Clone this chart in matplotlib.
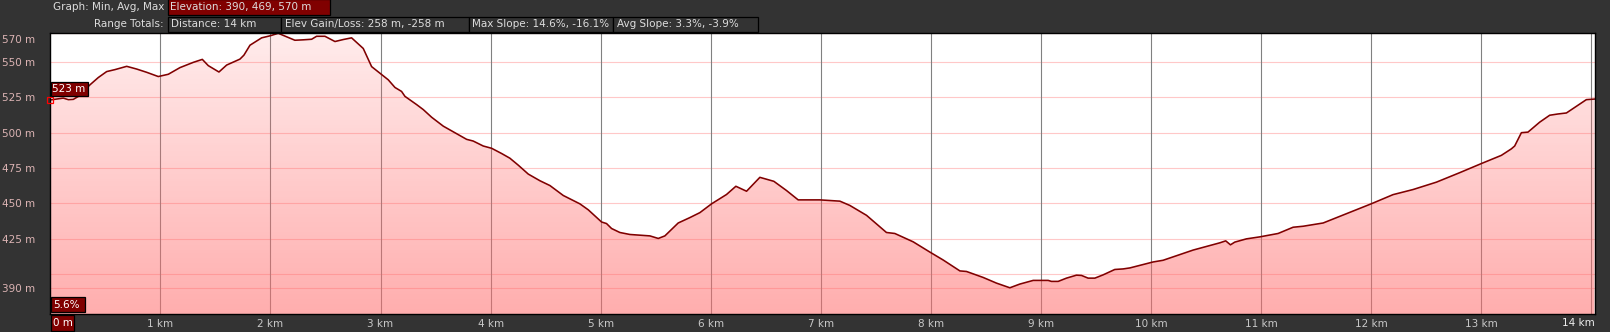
import matplotlib
matplotlib.use("Agg")
import matplotlib.pyplot as plt
import numpy as np
from matplotlib.patches import Rectangle, Polygon

# ---------------- data ----------------
distance_km = [0.000, 0.118, 0.164, 0.209, 0.255, 0.361, 0.436, 0.512, 0.588, 0.694,
               0.784, 0.875, 0.981, 1.072, 1.178, 1.299, 1.381, 1.435, 1.532, 1.602,
               1.723, 1.759, 1.814, 1.920, 1.995, 2.071, 2.147, 2.222, 2.298, 2.374,
               2.419, 2.495, 2.586, 2.661, 2.737, 2.783, 2.843, 2.919, 2.995, 3.070,
               3.131, 3.191, 3.222, 3.328, 3.388, 3.464, 3.570, 3.691, 3.782, 3.842,
               3.933, 4.009, 4.100, 4.175, 4.251, 4.342, 4.448, 4.539, 4.660, 4.811,
               4.887, 5.008, 5.053, 5.099, 5.174, 5.265, 5.356, 5.447, 5.523, 5.583,
               5.704, 5.810, 5.901, 6.007, 6.143, 6.228, 6.325, 6.446, 6.573, 6.688,
               6.794, 6.991, 7.173, 7.263, 7.415, 7.596, 7.672, 7.839, 7.990, 8.111,
               8.263, 8.323, 8.474, 8.595, 8.717, 8.807, 8.929, 9.065, 9.095, 9.156,
               9.231, 9.322, 9.368, 9.428, 9.489, 9.564, 9.670, 9.746, 9.807, 10.018,
               10.109, 10.382, 10.624, 10.678, 10.721, 10.760, 10.866, 10.987, 11.154, 11.290,
               11.381, 11.563, 11.714, 11.835, 11.999, 12.198, 12.380, 12.592, 12.804, 13.006,
               13.182, 13.273, 13.303, 13.364, 13.424, 13.530, 13.621, 13.697, 13.773, 13.863,
               13.954, 14.027]
elevation_m = [523.0, 524.3, 523.2, 523.4, 525.5, 533.7, 538.8, 543.0, 544.4, 546.7,
               544.8, 542.5, 539.5, 541.1, 545.8, 549.5, 551.6, 547.2, 542.7, 547.6,
               551.8, 554.6, 561.6, 566.8, 568.2, 570.0, 567.5, 565.1, 565.4, 565.8,
               567.9, 567.9, 564.2, 565.6, 566.8, 563.5, 559.3, 546.5, 541.8, 537.2,
               531.8, 529.0, 525.5, 519.7, 516.2, 510.8, 504.5, 499.2, 495.2, 494.0,
               490.5, 488.9, 485.2, 481.9, 477.0, 470.7, 466.0, 462.6, 455.6, 449.7,
               445.5, 436.9, 435.8, 432.3, 429.5, 428.1, 427.6, 427.1, 425.3, 427.1,
               436.2, 440.0, 443.5, 449.7, 456.3, 462.1, 458.6, 468.4, 465.6, 459.1,
               452.5, 452.5, 451.6, 448.6, 441.6, 429.5, 428.8, 422.9, 415.7, 410.1,
               402.4, 402.0, 397.8, 393.8, 390.5, 393.1, 395.7, 395.7, 395.0, 395.0,
               397.3, 399.4, 399.2, 397.3, 397.3, 399.6, 403.4, 403.8, 404.5, 408.7,
               409.9, 417.1, 422.2, 423.6, 420.8, 422.7, 425.0, 426.4, 428.8, 433.2,
               433.9, 436.2, 440.9, 444.6, 449.7, 456.2, 459.8, 465.0, 471.7, 478.3,
               483.9, 488.5, 490.5, 499.9, 500.3, 507.3, 512.2, 513.1, 513.8, 518.5,
               523.2, 523.6]

x_ticks_km = list(range(1, 15))
x_tick_labels = [f"{k} km" for k in x_ticks_km]
y_grid = [390, 400, 425, 450, 475, 500, 525, 550, 570]
y_tick_labels = ["390 m", "", "425 m", "450 m", "475 m", "500 m", "525 m", "550 m", "570 m"]
y_min_axis, y_max_axis = 372, 570
x_max_axis = 14.03

header_row1_label = "Graph: Min, Avg, Max"
header_row1_box = "Elevation: 390, 469, 570 m"
header_row2_label = "Range Totals:"
header_row2_boxes = ["Distance: 14 km", "Elev Gain/Loss: 258 m, -258 m",
                     "Max Slope: 14.6%, -16.1%", "Avg Slope: 3.3%, -3.9%"]
cursor_slope = "5.6%"
cursor_distance = "0 m"

# ---------------- figure ----------------
W, H = 1610, 332
plt.rcParams["font.family"] = ["DejaVu Sans"]
FS = 7.5
BG = "#333333"
DARKRED = "#800000"
TXT = "#dddddd"

fig = plt.figure(figsize=(W / 100, H / 100), dpi=100, facecolor=BG)

def fx(px):
    return px / W

def fy(py):
    return 1 - py / H

def box(x0, y0, x1, y1, face, text=None, tx=None, color="white", ha="left"):
    r = Rectangle((fx(x0), fy(y1)), fx(x1) - fx(x0), fy(y0) - fy(y1),
                  transform=fig.transFigure, facecolor=face, edgecolor="black",
                  linewidth=0.9, zorder=10)
    fig.patches.append(r)
    if text is not None:
        fig.text(fx(tx if tx is not None else x0 + 3), fy((y0 + y1) / 2), text,
                 ha=ha, va="center", color=color, fontsize=FS, zorder=11)

L, R, T, B = 50.3, 1594.7, 33.3, 314.0
ax = fig.add_axes([fx(L), fy(B), fx(R) - fx(L), fy(T) - fy(B)])
ax.set_facecolor("white")
ax.set_xlim(0, x_max_axis)
ax.set_ylim(y_min_axis, y_max_axis)

for v in y_grid:
    ax.axhline(v, color="#ffc8c8", lw=0.8, zorder=1)
for k in x_ticks_km:
    ax.axvline(k, color="#808080", lw=0.8, zorder=1)

# gradient fill under curve
n = 256
grad = np.zeros((n, 1, 4))
t = np.linspace(0, 1, n)[:, None]  # 0 bottom, 1 top
grad[..., 0] = 1.0
grad[..., 1] = 0.43
grad[..., 2] = 0.43
grad[..., 3] = 0.56 - 0.43 * t
verts = list(zip(distance_km, elevation_m)) + [(distance_km[-1], y_min_axis), (distance_km[0], y_min_axis)]
poly = Polygon(verts, closed=True, facecolor="none", edgecolor="none", transform=ax.transData)
ax.add_patch(poly)
im = ax.imshow(grad, extent=[0, x_max_axis, y_min_axis, y_max_axis], origin="lower",
               aspect="auto", zorder=2, interpolation="bilinear")
im.set_clip_path(poly)

ax.plot(distance_km, elevation_m, color=DARKRED, lw=1.15, zorder=3)
ax.plot(distance_km[0], elevation_m[0], marker="s", mfc="none", mec="#ff0000",
        ms=4.5, mew=0.9, clip_on=False, zorder=6)

for s in ax.spines.values():
    s.set_color("black")
    s.set_linewidth(1.0)
    s.set_zorder(5)

ax.set_xticks(x_ticks_km[:-1])
ax.set_xticklabels(x_tick_labels[:-1])
ax.tick_params(axis="x", length=0, pad=3.5, colors="#c8c8c8", labelsize=FS)
ax.set_yticks(y_grid[:-1])
ax.set_yticklabels(y_tick_labels[:-1])
ax.tick_params(axis="y", length=0, pad=11, colors="#dcb4b4", labelsize=FS)
fig.text(fx(35), fy(40), y_tick_labels[-1], ha="right", va="center",
         color="#dcb4b4", fontsize=FS)
fig.text(fx(1595), fy(323), x_tick_labels[-1], ha="right", va="center",
         color="#eeeeee", fontsize=FS)

# cursor labels
box(50.7, 81.7, 88.3, 96.0, DARKRED, f"{elevation_m[0]:.0f} m", tx=52)
box(50.7, 297.3, 85.0, 312.3, DARKRED, cursor_slope, tx=53)
box(50.7, 315.0, 74.0, 330.7, DARKRED, cursor_distance, tx=52.5)

# header
fig.text(fx(164), fy(7.5), header_row1_label, ha="right", va="center", color=TXT, fontsize=FS)
box(167.7, -1, 330.0, 15.3, DARKRED, header_row1_box, tx=169.5, color=TXT)
fig.text(fx(164), fy(24.2), header_row2_label, ha="right", va="center", color=TXT, fontsize=FS)
edges = [167.7, 281.0, 468.5, 613.0, 758.0]
for i, lab in enumerate(header_row2_boxes):
    box(edges[i], 16.7, edges[i + 1], 31.7, BG, lab, tx=edges[i] + 3.5, color=TXT)

fig.savefig("out.png", dpi=100, facecolor=BG)
